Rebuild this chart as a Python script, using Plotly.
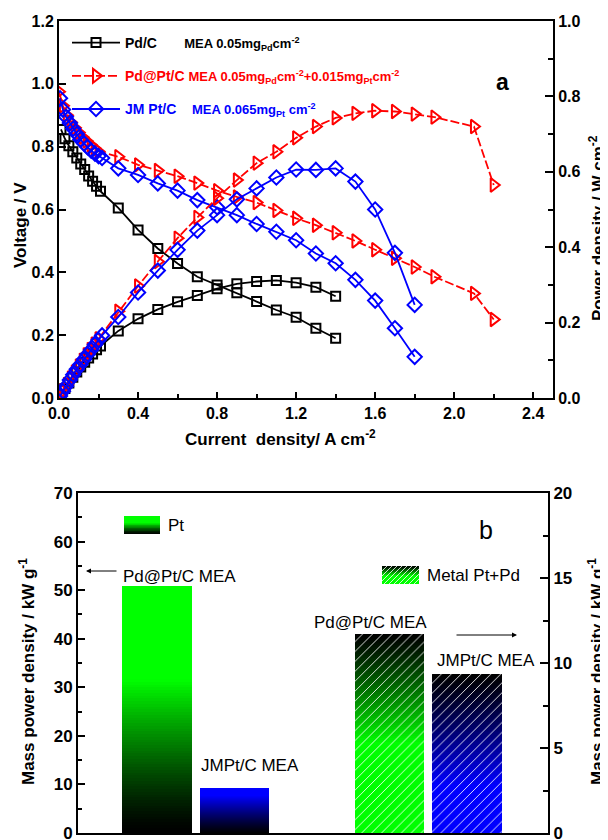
import plotly.graph_objects as go

# ---------------- data: panel a ----------------
pdc_j = [0.01, 0.03, 0.05, 0.07, 0.09, 0.11, 0.13, 0.15, 0.17, 0.19, 0.21,
         0.3, 0.4, 0.5, 0.6, 0.7, 0.8, 0.9, 1.0, 1.1, 1.2, 1.3, 1.4]
pdc_v = [0.855, 0.825, 0.803, 0.784, 0.764, 0.745, 0.727, 0.707, 0.69, 0.674, 0.658,
         0.605, 0.535, 0.476, 0.428, 0.386, 0.36, 0.335, 0.307, 0.28, 0.257, 0.222, 0.19]
pdc_p = [0.009, 0.025, 0.04, 0.055, 0.069, 0.082, 0.095, 0.106, 0.117, 0.128, 0.138,
         0.178, 0.21, 0.235, 0.255, 0.272, 0.29, 0.303, 0.309, 0.312, 0.306, 0.294, 0.27]

pdpt_j = [0.0, 0.02, 0.04, 0.06, 0.08, 0.1, 0.12, 0.14, 0.16, 0.18, 0.2,
          0.3, 0.4, 0.5, 0.6, 0.7, 0.8, 0.9, 1.0, 1.1, 1.2, 1.3, 1.4, 1.5, 1.6,
          1.7, 1.8, 1.9, 2.1, 2.2]
pdpt_v = [0.975, 0.93, 0.9, 0.878, 0.86, 0.845, 0.83, 0.818, 0.806, 0.795, 0.785,
          0.768, 0.742, 0.724, 0.706, 0.684, 0.66, 0.64, 0.622, 0.597, 0.572, 0.55,
          0.526, 0.50, 0.472, 0.445, 0.417, 0.386, 0.333, 0.25]
pdpt_p = [0.0, 0.019, 0.036, 0.053, 0.069, 0.085, 0.10, 0.115, 0.129, 0.143, 0.157,
          0.23, 0.297, 0.362, 0.424, 0.479, 0.53, 0.578, 0.623, 0.653, 0.69, 0.72,
          0.743, 0.755, 0.762, 0.76, 0.753, 0.745, 0.72, 0.565]

jm_j = [0.005, 0.02, 0.035, 0.055, 0.072, 0.09, 0.108, 0.127, 0.145, 0.163, 0.182, 0.2, 0.218,
        0.3, 0.4, 0.5, 0.6, 0.7, 0.8, 0.9, 1.0, 1.1, 1.2, 1.3, 1.4, 1.5, 1.6, 1.7, 1.8]
jm_v = [0.954, 0.918, 0.895, 0.875, 0.857, 0.84, 0.823, 0.81, 0.798, 0.787, 0.778, 0.77, 0.764,
        0.731, 0.71, 0.683, 0.66, 0.63, 0.607, 0.582, 0.554, 0.529, 0.502, 0.46, 0.429,
        0.376, 0.31, 0.222, 0.131]
jm_p = [0.005, 0.018, 0.031, 0.048, 0.062, 0.076, 0.089, 0.103, 0.116, 0.128, 0.142, 0.154, 0.166,
        0.215, 0.28, 0.338, 0.393, 0.444, 0.485, 0.527, 0.556, 0.585, 0.606, 0.605, 0.609,
        0.574, 0.50, 0.385, 0.247]

x_ticks_a = [0.0, 0.4, 0.8, 1.2, 1.6, 2.0, 2.4]

# ---------------- data: panel b ----------------
bar_names = ["Pd@Pt/C MEA", "JMPt/C MEA"]
pt_mass_power = [50.9, 9.2]        # kW g-1 Pt (left axis)
metal_mass_power = [11.7, 9.35]    # kW g-1 Pt+Pd (right axis)

# The page body has an 8px default margin: size the figure so it ends at the window edge.
OFF = 8
W, H = 608 - OFF, 840 - OFF
def px(x): return (x - OFF) / W
def py(y): return 1 - (y - OFF) / H

FONT = "Liberation Sans, Arial, sans-serif"
RED, BLUE, BLACK = "#ff0000", "#0000ff", "#000000"

fig = go.Figure()

leg_pdc = ('<b>Pd/C</b>' + '\u00a0' * 7 +
           '<b><span style="font-size:13px">MEA 0.05mg<sub>Pd</sub>cm<sup>-2</sup></span></b>')
leg_pdpt = ('<b><span style="color:#ff0000">Pd@Pt/C <span style="font-size:13px">MEA 0.05mg<sub>Pd</sub>cm<sup>-2</sup>'
            '+0.015mg<sub>Pt</sub>cm<sup>-2</sup></span></span></b>')
leg_jm = ('<b><span style="color:#0000ff">JM Pt/C' + '\u00a0' * 4 +
          '<span style="font-size:13px">MEA 0.065mg<sub>Pt</sub> cm<sup>-2</sup></span></span></b>')

series = [
    (pdc_j, pdc_v, pdc_p, BLACK, "square-open", 9, "solid", leg_pdc, "g1"),
    (pdpt_j, pdpt_v, pdpt_p, RED, "triangle-right-open", 12, "9px,3px", leg_pdpt, "g2"),
    (jm_j, jm_v, jm_p, BLUE, "diamond-open", 11, "solid", leg_jm, "g3"),
]
for j, v, p, c, sym, sz, dash, name, grp in series:
    fig.add_trace(go.Scatter(
        x=j, y=v, mode="lines+markers", name=name, legendgroup=grp,
        line=dict(color=c, width=1.8, dash=dash),
        marker=dict(symbol=sym, size=sz, color=c, line=dict(color=c, width=2)),
        xaxis="x", yaxis="y"))
    fig.add_trace(go.Scatter(
        x=j, y=p, mode="lines+markers", name=name, legendgroup=grp, showlegend=False,
        line=dict(color=c, width=1.8, dash=dash),
        marker=dict(symbol=sym, size=sz, color=c, line=dict(color=c, width=2)),
        xaxis="x", yaxis="y2"))

# ---------------- panel b bars ----------------
cats = ["Pt | " + bar_names[0], "Pt | " + bar_names[1], " ",
        "Pt+Pd | " + bar_names[0], "Pt+Pd | " + bar_names[1]]
NSEG = 90

def gradient_bar(cat, value, colfun, yaxis):
    h = value / NSEG
    xs, bases, ys, cols = [], [], [], []
    for i in range(NSEG):
        f = (i + 0.5) / NSEG
        xs.append(cat)
        bases.append(i * h)
        ys.append(h * 1.8 if i < NSEG - 1 else h)
        cols.append(colfun(f))
    fig.add_trace(go.Bar(x=xs, y=ys, base=bases, width=0.9, showlegend=False,
                         marker=dict(color=cols, line=dict(width=0)),
                         xaxis="x3", yaxis=yaxis, hoverinfo="skip"))

def c_green_up(f):
    g = int(255 * min(1.0, f / 0.62) ** 1.3)
    return f"rgb(0,{g},0)"
def c_blue_up(f):
    b = int(255 * min(1.0, f / 0.85) ** 1.2)
    return f"rgb(0,0,{b})"
def c_green_down(f):
    g = int(255 * min(1.0, (1 - f) / 0.55) ** 1.2)
    return f"rgb(0,{g},0)"
def c_blue_down(f):
    b = int(255 * min(1.0, (1 - f) / 0.7) ** 1.2)
    return f"rgb(0,0,{b})"

gradient_bar(cats[0], pt_mass_power[0], c_green_up, "y3")
gradient_bar(cats[1], pt_mass_power[1], c_blue_up, "y3")
gradient_bar(cats[3], metal_mass_power[0], c_green_down, "y4")
gradient_bar(cats[4], metal_mass_power[1], c_blue_down, "y4")

# hatch overlay for Pt+Pd bars
fig.add_trace(go.Bar(x=[cats[3], cats[4]], y=metal_mass_power, width=0.9, showlegend=False,
                     marker=dict(color="rgba(0,0,0,0)", line=dict(width=0),
                                 pattern=dict(shape="/", fgcolor="white", bgcolor="rgba(0,0,0,0)",
                                              size=7, solidity=0.12, fillmode="replace")),
                     xaxis="x3", yaxis="y4"))

# ---------------- axes ----------------
tickfont = dict(family=FONT, size=16, color="black", weight="bold")
common = dict(showline=True, linewidth=2, linecolor="black", ticks="inside",
              tickwidth=2, tickcolor="black", showgrid=False, zeroline=False,
              automargin=False, tickfont=tickfont)
tickfont_b = dict(family=FONT, size=17, color="black", weight="bold")

fig.update_layout(
    width=W, height=H, template="none", autosize=False,
    margin=dict(l=0, r=0, t=0, b=0),
    paper_bgcolor="white", plot_bgcolor="rgba(0,0,0,0)",
    barmode="overlay", bargap=0,
    font=dict(family=FONT, color="black"),
    xaxis=dict(domain=[px(59), px(553)], anchor="y", range=[0, 2.5],
               tickvals=x_ticks_a, tickformat=".1f", ticklen=6, mirror=True,
               minor=dict(dtick=0.2, tick0=0, ticks="inside", ticklen=4, tickwidth=2, tickcolor="black"),
               **common),
    yaxis=dict(domain=[py(398), py(21)], anchor="x", range=[0, 1.2], dtick=0.2,
               tickformat=".1f", ticklen=7, mirror=True, **common),
    yaxis2=dict(overlaying="y", anchor="x", side="right", range=[0, 1.0], dtick=0.2,
                tickformat=".1f", ticklen=8,
                minor=dict(dtick=0.1, tick0=0, ticks="inside", ticklen=5, tickwidth=2, tickcolor="black"),
                **common),
    xaxis3=dict(domain=[px(78), px(548)], anchor="y3", type="category",
                categoryorder="array", categoryarray=cats, range=[-1.02, 5.045],
                showticklabels=False, showline=True, linewidth=2, linecolor="black",
                mirror=True, ticks="", showgrid=False, zeroline=False, automargin=False),
    yaxis3=dict(domain=[py(833), py(493)], anchor="x3", range=[0, 70], dtick=10, ticklen=7,
                ticklabeloverflow="allow",
                minor=dict(dtick=5, tick0=0, ticks="inside", ticklen=4, tickwidth=2, tickcolor="black"),
                **{**common, "tickfont": tickfont_b}),
    yaxis4=dict(overlaying="y3", anchor="x3", side="right", range=[0, 20], dtick=5, ticklen=8,
                ticklabeloverflow="allow",
                minor=dict(dtick=2.5, tick0=0, ticks="inside", ticklen=5, tickwidth=2, tickcolor="black"),
                **{**common, "tickfont": tickfont_b}),
    legend=dict(x=px(67), y=py(27), xanchor="left", yanchor="top", bgcolor="rgba(0,0,0,0)",
                borderwidth=0, itemwidth=48, traceorder="grouped", tracegroupgap=12,
                font=dict(family=FONT, size=14, color="black")),
)

ann = []
def text(x, y, t, size, bold=False, angle=0, xanchor="center", color="black"):
    ann.append(dict(x=px(x), y=py(y), xref="paper", yref="paper", text=t, showarrow=False,
                    textangle=angle, xanchor=xanchor, yanchor="middle",
                    font=dict(family=FONT, size=size, color=color,
                              weight="bold" if bold else "normal")))

text(280, 438, "Current\u00a0\u00a0density/ A cm<sup>-2</sup>", 17, bold=True)
text(20, 225, "Voltage / V", 17, bold=True, angle=-90)
text(597, 228, "Power density / W cm<sup>-2</sup>", 17, bold=True, angle=-90)
text(502, 82, "a", 23, bold=True)
text(27, 672, "Mass power density / kW g<sup>-1</sup>", 17, bold=True, angle=-90)
text(596, 672, "Mass power density / kW g<sup>-1</sup>", 17, bold=True, angle=-90)
text(486, 530, "b", 25)
text(121, 576, "Pd@Pt/C MEA", 17, xanchor="left")
text(199, 765, "JMPt/C MEA", 17, xanchor="left")
text(312, 622, "Pd@Pt/C MEA", 17, xanchor="left")
text(435, 660, "JMPt/C MEA", 17, xanchor="left")
text(166, 525, "Pt", 17, xanchor="left")
text(425, 575, "Metal Pt+Pd", 17, xanchor="left")

# arrows
ann.append(dict(x=px(86), y=py(571), xref="paper", yref="paper", ax=32, ay=0, text="",
                showarrow=True, arrowhead=2, arrowsize=1, arrowwidth=1, arrowcolor="black"))
ann.append(dict(x=px(517), y=py(635), xref="paper", yref="paper", ax=-62, ay=0, text="",
                showarrow=True, arrowhead=2, arrowsize=1, arrowwidth=1, arrowcolor="black"))
fig.update_layout(annotations=ann)

# legend swatches for panel b
shapes = []
def swatch(x0, y0, x1, y1, colfun, hatch):
    n = 12
    for i in range(n):
        f_top = 1 - i / n
        ya = y0 + (y1 - y0) * i / n
        yb = y0 + (y1 - y0) * (i + 1) / n + 0.6
        shapes.append(dict(type="rect", xref="paper", yref="paper",
                           x0=px(x0), x1=px(x1), y0=py(ya), y1=py(min(yb, y1)),
                           line=dict(width=0), fillcolor=colfun(f_top - 0.5 / n)))
    if hatch:
        step = 5
        hgt = y1 - y0
        k = x0 - hgt
        while k < x1:
            xa, ya_ = k, y1
            xb, yb_ = k + hgt, y0
            if xa < x0:
                ya_ -= (x0 - xa); xa = x0
            if xb > x1:
                yb_ += (xb - x1); xb = x1
            if xb > xa:
                shapes.append(dict(type="line", xref="paper", yref="paper",
                                   x0=px(xa), y0=py(ya_), x1=px(xb), y1=py(yb_),
                                   line=dict(color="white", width=0.8)))
            k += step

swatch(124, 516, 160, 534, c_green_up, False)
swatch(382, 566, 419, 584, c_green_down, True)
fig.update_layout(shapes=shapes)

fig.write_html("out.html")
